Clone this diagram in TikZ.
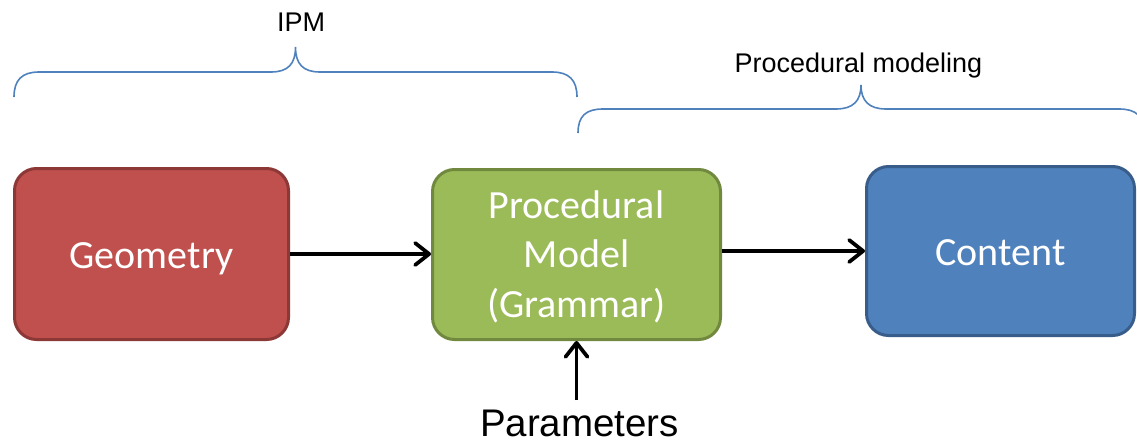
\documentclass[tikz,border=0pt]{standalone}
\usepackage{fontspec}
\setmainfont{Liberation Sans}
\newfontfamily\boxfont{Carlito}
\usetikzlibrary{arrows.meta}

\definecolor{geomfill}{HTML}{C0504D}
\definecolor{geomline}{HTML}{8C3836}
\definecolor{procfill}{HTML}{9BBB59}
\definecolor{procline}{HTML}{71893F}
\definecolor{contfill}{HTML}{4F81BD}
\definecolor{contline}{HTML}{385D8A}
\definecolor{bracecol}{HTML}{4F81BD}

\tikzset{
  block/.style={rectangle, rounded corners=22pt, line width=3pt,
    text=white, align=center, inner sep=0pt,
    font=\boxfont\fontsize{40}{49.5}\selectfont},
  flow/.style={line width=3.75pt, -{Straight Barb[length=14pt,width=22pt,round]}},
  bracket/.style={bracecol, line width=1.6pt},
  caption/.style={anchor=base, inner sep=0pt, font=\fontsize{27}{32}\selectfont},
}

\begin{document}
\begin{tikzpicture}[x=1pt, y=-1pt]
  \useasboundingbox (0,0) rectangle (1137,444);

  % main blocks
  \node[block, fill=geomfill, draw=geomline, minimum width=274pt, minimum height=171pt,
        text height=32pt, text depth=4pt]
    (geom) at (151.5,254) {Geometry};
  \node[block, fill=procfill, draw=procline, minimum width=288pt, minimum height=170pt,
        text height=130pt, text depth=5pt]
    (proc) at (576.5,254.5) {Procedural\\Model\\(Grammar)};
  \node[block, fill=contfill, draw=contline, minimum width=268pt, minimum height=169pt,
        text height=32pt, text depth=4pt]
    (cont) at (1000.5,251) {Content};

  % input parameters
  \node[anchor=base, inner sep=0pt, text depth=0pt, font=\fontsize{38.5}{46}\selectfont]
    (params) at (579.5,436.5) {Parameters};
  \coordinate (ptail) at (576.5,400);

  % connectors
  \draw[flow] (geom.east) -- (geom.east -| proc.west);
  \draw[flow] (proc.east |- cont.west) -- (cont.west);
  \draw[flow] (ptail) -- (proc.south);

  % group braces
  \draw[bracket] (14,97) .. controls (14,80) and (22,72) .. (39,72) -- (271,72)
    .. controls (288,72) and (295.5,64) .. (295.5,47)
    .. controls (295.5,64) and (303,72) .. (320,72) -- (552,72)
    .. controls (569,72) and (577,80) .. (577,97);
  \node[caption] (ipm) at (301,32) {IPM};

  \draw[bracket] (578,133) .. controls (578,116) and (586,109) .. (603,109) -- (836,109)
    .. controls (853,109) and (861,101) .. (861,85)
    .. controls (861,101) and (869,109) .. (886,109) -- (1119,109)
    .. controls (1136,109) and (1144,116) .. (1144,133);
  \node[caption] (pm) at (858.5,72) {Procedural modeling};
\end{tikzpicture}
\end{document}
